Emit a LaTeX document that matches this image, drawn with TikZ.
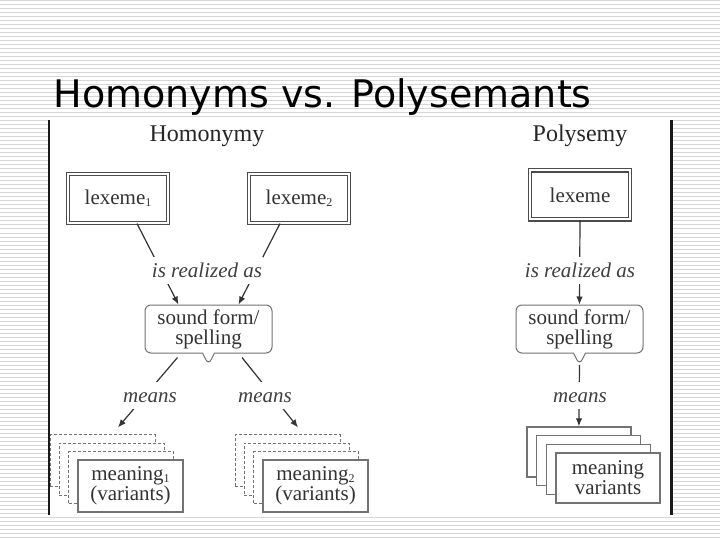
\documentclass[tikz,border=0pt]{standalone}
\usepackage{fontspec}
\setmainfont{Liberation Serif}
\newfontfamily\titlefont{DejaVu Sans}
\usetikzlibrary{positioning,arrows.meta,shapes.callouts,calc}

\newcommand{\idx}[1]{\raisebox{-2pt}{\fontsize{12}{12}\selectfont #1}}

\begin{document}
\begin{tikzpicture}[
  x=1pt, y=-1pt,
  font=\fontsize{21}{20}\selectfont, >={Latex[length=8pt,width=6.5pt]},
  stripe/.style={draw=black!16, line width=1pt},
  frame/.style={draw=black!90, line width=2pt},
  head/.style={font=\fontsize{24}{24}\selectfont, text=black!85},
  lexbox/.style={draw=black!70, double, double distance=2pt, line width=1.1pt,
                 minimum width=100pt, minimum height=49pt, text=black!80, inner sep=0pt},
  sound/.style={rectangle callout, draw=black!55, line width=1pt, rounded corners=6pt,
                fill=white, minimum width=127pt, minimum height=48pt, align=center,
                text=black!80, callout pointer width=12pt},
  mbox/.style={draw=black!55, line width=1.2pt, fill=white, minimum width=105pt,
               minimum height=52pt, align=center, text=black!80},
  mback/.style={mbox, dash pattern=on 3pt off 2pt},
  vbox/.style={mbox, minimum width=104pt, minimum height=50pt},
  lbl/.style={font=\fontsize{21}{20}\selectfont\itshape, text=black!75, fill=white,
              text height=14pt, text depth=0pt, inner xsep=1pt, inner ysep=6.5pt},
  arr/.style={->, line width=1.2pt, draw=black!80},
]
\useasboundingbox (0,0) rectangle (720,540);

% striped slide background
\foreach \y in {1,5,...,537}
  \draw[stripe] (0,\y) -- (720,\y);
\fill[white] (49,117) rectangle (670,516);
\draw[frame] (48.5,120) -- (48.5,515);
\draw[frame, line width=3pt] (671,120) -- (671,515);

\node[anchor=base west, inner sep=0pt, font=\titlefont\fontsize{38}{40}\selectfont]
  (title) at (53.3,108) {Homonyms vs. Polysemants};

% Homonymy
\node[head] (hom) at (207,136) {Homonymy};
\node[lexbox] (lx1) at (118,198.5) {lexeme\idx{1}};
\node[lexbox] (lx2) at (299,198.5) {lexeme\idx{2}};
\coordinate (tip1) at (208.5,365);
\node[sound, callout absolute pointer={(tip1)}] (sf1) at (208.5,329) {sound form/\\spelling};

\foreach \i in {3,2,1} {
  \node[mback] (m1b\i) at (130.5-9.3*\i,486-8.4*\i) {};
  \node[mback] (m2b\i) at (315.5-9.3*\i,486-8.4*\i) {};
}
\node[mbox] (m1) at (130.5,486) {meaning\idx{1}\\(variants)};
\node[mbox] (m2) at (315.5,486) {meaning\idx{2}\\(variants)};

\draw[arr] ([xshift=19pt]lx1.south) -- ([xshift=-30pt]sf1.north);
\draw[arr] ([xshift=-19pt]lx2.south) -- ([xshift=30pt]sf1.north);
\node[lbl] (real1) at (207,270) {is realized as};

\draw[arr] ([xshift=-31pt,yshift=-4pt]sf1.south) -- ([xshift=-12.5pt,yshift=32pt]m1.north);
\draw[arr] ([xshift=33.5pt,yshift=-4pt]sf1.south) -- ([xshift=-17.5pt,yshift=32pt]m2.north);
\node[lbl] (mean1) at (150,395) {means};
\node[lbl] (mean2) at (265,395) {means};

% Polysemy
\node[head] (pol) at (580,136) {Polysemy};
\node[lexbox] (lx3) at (580,195) {lexeme};
\coordinate (tip3) at (579.5,365);
\node[sound, callout absolute pointer={(tip3)}] (sf3) at (579.5,329) {sound form/\\spelling};

\foreach \i in {3,2,1}
  \node[vbox] (v\i) at (608-9.7*\i,478-8.7*\i) {};
\node[vbox] (v0) at (608,478) {meaning\\variants};

\draw[arr] (lx3.south) -- (sf3.north);
\node[lbl] (real2) at (580,270) {is realized as};
\draw[arr] (tip3) -- (v3.north);
\node[lbl] (mean3) at (580,395) {means};
\end{tikzpicture}
\end{document}
